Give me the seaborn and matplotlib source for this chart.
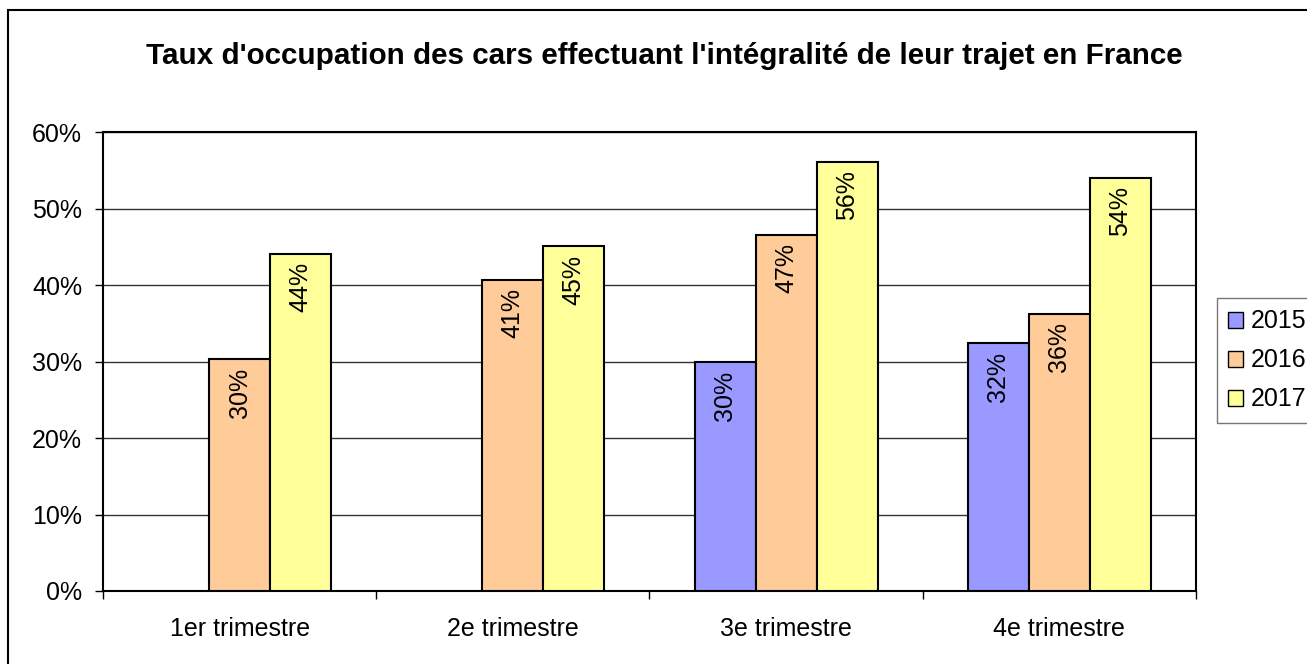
#!/usr/bin/env python3
# -*- coding: utf-8 -*-
"""Taux d'occupation des cars (trajet intégral en France) par trimestre."""

import numpy as np
import pandas as pd
import matplotlib
matplotlib.use("Agg")
import matplotlib.pyplot as plt
import matplotlib.patches as mpatches
from matplotlib.ticker import PercentFormatter, FixedLocator
import seaborn as sns

# --- données ---
trimestres = ["1er trimestre", "2e trimestre", "3e trimestre", "4e trimestre"]
annees = ["2015", "2016", "2017"]
taux_2015 = [np.nan, np.nan, 0.299, 0.324]
taux_2016 = [0.303, 0.407, 0.466, 0.363]
taux_2017 = [0.441, 0.451, 0.561, 0.541]
couleurs = ["#9999FF", "#FFCC99", "#FFFF99"]

df = pd.DataFrame({
    "trimestre": trimestres * 3,
    "annee": [a for a in annees for _ in trimestres],
    "taux": taux_2015 + taux_2016 + taux_2017,
}).dropna()

sns.set_theme(style="white")
plt.rcParams["font.family"] = ["Liberation Sans", "DejaVu Sans"]
plt.rcParams["text.color"] = "black"
plt.rcParams["xtick.color"] = "black"
plt.rcParams["ytick.color"] = "black"

fig = plt.figure(figsize=(13.07, 6.64), dpi=100)
ax = fig.add_axes([0.0788, 0.110, 0.8362, 0.6905])

sns.barplot(data=df, x="trimestre", y="taux", hue="annee",
            order=trimestres, hue_order=annees,
            palette=dict(zip(annees, couleurs)),
            width=0.67, edgecolor="black", linewidth=1.5,
            saturation=1, errorbar=None, ax=ax, zorder=3)

# étiquettes de valeurs, verticales, en haut de chaque barre
for cont in ax.containers:
    for bar in cont:
        h = bar.get_height()
        if np.isnan(h) or h == 0:
            continue
        ax.annotate(f"{h:.0%}", (bar.get_x() + bar.get_width() / 2, h),
                    xytext=(0, -6), textcoords="offset points",
                    rotation=90, ha="center", va="top", fontsize=18,
                    color="black", zorder=4)

ax.set_ylim(0, 0.6)
ax.set_xlim(-0.5, 3.5)
ax.yaxis.set_major_locator(FixedLocator(np.arange(0, 0.61, 0.1)))
ax.yaxis.set_major_formatter(PercentFormatter(1.0, decimals=0))
ax.yaxis.grid(True, color="#333333", linewidth=1)
ax.set_axisbelow(True)
ax.xaxis.set_minor_locator(FixedLocator(np.arange(-0.5, 3.6, 1)))
ax.tick_params(axis="x", which="major", length=0, pad=19, labelsize=18)
ax.tick_params(axis="x", which="minor", length=6, width=1, direction="out",
               bottom=True)
ax.tick_params(axis="y", length=6, width=1, direction="out", left=True,
               pad=9, labelsize=18)
ax.set_xlabel("")
ax.set_ylabel("")
for s in ax.spines.values():
    s.set_color("black")
    s.set_linewidth(1.5)

# légende à droite, coupée par le bord
handles = [mpatches.Patch(facecolor=c, edgecolor="black", label=a)
           for a, c in zip(annees, couleurs)]
ax.legend(handles=handles, loc="upper left",
          bbox_to_anchor=(0.931, 0.551), bbox_transform=fig.transFigure,
          fontsize=18, frameon=True, fancybox=False, edgecolor="#555555",
          handlelength=0.6, handleheight=0.6, handletextpad=0.3,
          labelspacing=0.6, borderpad=0.45, borderaxespad=0)

fig.suptitle("Taux d'occupation des cars effectuant l'intégralité de leur trajet en France",
             x=0.508, y=0.915, va="center", fontsize=21.3, fontweight="bold")

# cadre extérieur du graphique
fig.patches.append(mpatches.Rectangle((0.0065, -0.1), 1.1, 1.085,
                                      transform=fig.transFigure, fill=False,
                                      edgecolor="black", linewidth=1.5))

fig.savefig("out.png", dpi=100)
